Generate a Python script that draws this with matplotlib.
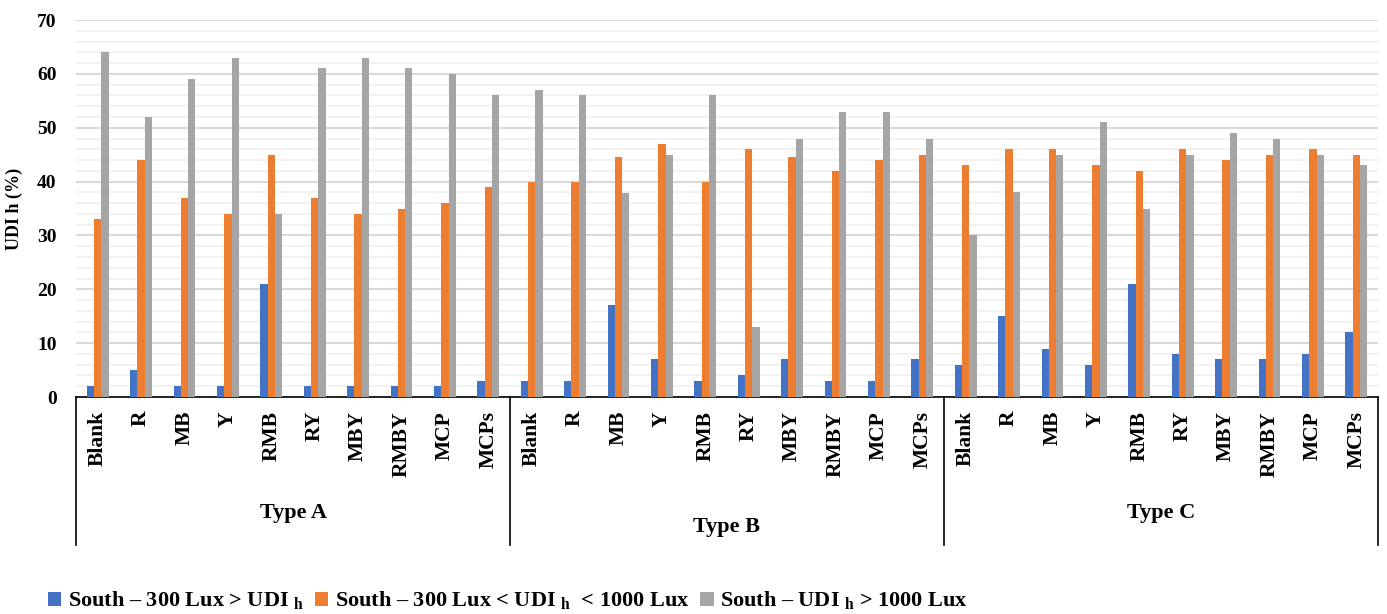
import numpy as np
import matplotlib
matplotlib.use("Agg")
import matplotlib.pyplot as plt
import matplotlib.transforms as mtransforms
from matplotlib.patches import Patch

plt.rcParams['font.family'] = ['Liberation Serif', 'DejaVu Serif']
plt.rcParams['font.weight'] = 'bold'
plt.rcParams['axes.labelweight'] = 'bold'
plt.rcParams['mathtext.fontset'] = 'custom'
plt.rcParams['mathtext.rm'] = 'Liberation Serif:bold'

groups = ["Type A", "Type B", "Type C"]
materials = ["Blank", "R", "MB", "Y", "RMB", "RY", "MBY", "RMBY", "MCP", "MCPs"]

below_300 = [2, 5, 2, 2, 21, 2, 2, 2, 2, 3,
             3, 3, 17, 7, 3, 4, 7, 3, 3, 7,
             6, 15, 9, 6, 21, 8, 7, 7, 8, 12]
between = [33, 44, 37, 34, 45, 37, 34, 35, 36, 39,
           40, 40, 44.5, 47, 40, 46, 44.5, 42, 44, 45,
           43, 46, 46, 43, 42, 46, 44, 45, 46, 45]
above_1000 = [64, 52, 59, 63, 34, 61, 63, 61, 60, 56,
              57, 56, 37.8, 45, 56, 13, 48, 53, 53, 48,
              30, 38, 45, 51, 35, 45, 49, 48, 45, 43]

series_labels = [r"South – 300 Lux > UDI $_{\mathrm{h}}$",
                 r"South – 300 Lux < UDI $_{\mathrm{h}}$  < 1000 Lux",
                 r"South – UDI $_{\mathrm{h}}$ > 1000 Lux"]
colors = ["#4472C4", "#ED7D31", "#A5A5A5"]

labels = materials * len(groups)
x = np.arange(len(labels))
w = 0.168

fig = plt.figure(figsize=(13.87, 6.14), dpi=100)
ax = fig.add_axes([0.0548, 0.3534, 0.9387, 0.614])

for i, vals in enumerate([below_300, between, above_1000]):
    ax.bar(x + (i - 1) * w, vals, width=w, color=colors[i], zorder=3)

ax.set_xlim(-0.5, len(labels) - 0.5)
ax.set_ylim(0, 70)
ax.set_yticks(range(0, 71, 10))
ax.set_yticks(range(0, 71, 2), minor=True)
ax.grid(axis='y', which='major', color='#d9d9d9', linewidth=1.5, zorder=0)
ax.grid(axis='y', which='minor', color='#efefef', linewidth=1.2, zorder=0)
ax.tick_params(axis='y', which='both', length=0, labelsize=14, pad=14)
ax.tick_params(axis='y', which='minor', labelleft=False)

ax.set_xticks(x)
ax.set_xticklabels(labels, rotation=90, va='top', ha='center', fontsize=15.5)
ax.tick_params(axis='x', length=0, pad=10)

for s in ['top', 'right', 'left']:
    ax.spines[s].set_visible(False)
ax.spines['bottom'].set_color('black')
ax.spines['bottom'].set_linewidth(1.2)

ax.set_ylabel("UDI h (%)", fontsize=13, labelpad=10)

# group separators and group names below the axis
trans = mtransforms.blended_transform_factory(ax.transData, ax.transAxes)
n = len(materials)
for g in range(len(groups) + 1):
    xp = g * n - 0.5
    ax.plot([xp, xp], [0, -0.393], transform=trans, color='black',
            linewidth=1.2, clip_on=False)
label_y = [-0.308, -0.345, -0.308]
for g, name in enumerate(groups):
    ax.text(g * n + (n - 1) / 2, label_y[g], name, transform=trans,
            ha='center', va='center', fontsize=16)

handles = [Patch(facecolor=c) for c in colors]
fig.legend(handles, series_labels, loc='lower left', bbox_to_anchor=(0.02, -0.03),
           ncol=3, frameon=False, fontsize=16, handlelength=0.6, handleheight=0.6,
           handletextpad=0.3, columnspacing=0.5)

fig.savefig("out.png", dpi=100)
